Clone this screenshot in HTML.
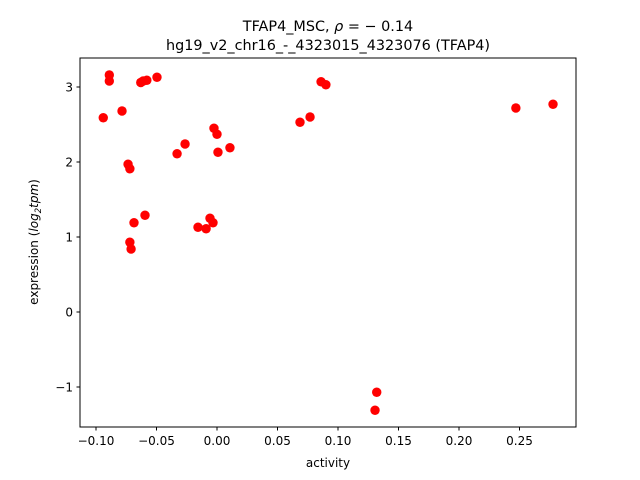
<!DOCTYPE html>
<html><head><meta charset="utf-8"><style>
body{margin:0;background:#fff;}
svg{display:block;font-family:"DejaVu Sans","Liberation Sans",sans-serif;}
</style></head><body>
<svg id="chart" width="640" height="480">
<rect width="640" height="480" fill="#fff"/>
<text x="328" y="31" text-anchor="middle" font-size="14.4">TFAP4_MSC, <tspan font-style="italic">ρ</tspan> = − 0.14</text>
<text x="328" y="50" text-anchor="middle" font-size="14.4">hg19_v2_chr16_-_4323015_4323076 (TFAP4)</text>
<g id="xticks"></g>
<g id="yticks"></g>
<g id="points"></g>
<rect x="80" y="58" width="496" height="369" fill="none" stroke="#000" stroke-width="1"/>
<text x="328" y="467" text-anchor="middle" font-size="12">activity</text>
<text transform="translate(38,242) rotate(-90)" text-anchor="middle" font-size="12">expression (<tspan font-style="italic">log</tspan><tspan font-style="italic" font-size="8.5" dy="3">2</tspan><tspan font-style="italic" dy="-3">tpm</tspan>)</text>
</svg>
<script>
const xTicks=[-0.10,-0.05,0.00,0.05,0.10,0.15,0.20,0.25];
const xTickLabels=["−0.10","−0.05","0.00","0.05","0.10","0.15","0.20","0.25"];
const yTicks=[-1,0,1,2,3];
const yTickLabels=["−1","0","1","2","3"];
const activity=[-0.094,-0.089,-0.089,-0.0785,-0.0735,-0.072,-0.072,-0.071,-0.0686,-0.063,-0.061,-0.058,-0.0595,-0.0496,-0.033,-0.0264,-0.0157,-0.009,-0.0058,-0.0033,-0.0025,0,0.0008,0.0107,0.0686,0.0769,0.086,0.09,0.1306,0.132,0.247,0.2777];
const expression=[2.59,3.16,3.08,2.68,1.97,1.91,0.93,0.84,1.19,3.06,3.08,3.09,1.29,3.13,2.11,2.24,1.13,1.11,1.25,1.19,2.45,2.37,2.13,2.19,2.53,2.6,3.07,3.03,-1.31,-1.07,2.72,2.77];
const NS="http://www.w3.org/2000/svg";
function sx(v){return 217+v*1210;}
function sy(v){return 312-v*75;}
const xg=document.getElementById('xticks'),yg=document.getElementById('yticks'),pg=document.getElementById('points');
xTicks.forEach((t,i)=>{
  const l=document.createElementNS(NS,'line');
  l.setAttribute('x1',sx(t));l.setAttribute('x2',sx(t));l.setAttribute('y1',427);l.setAttribute('y2',430.5);l.setAttribute('stroke','#000');
  
  
  xg.appendChild(l);
  const tx=document.createElementNS(NS,'text');
  tx.setAttribute('x',sx(t));tx.setAttribute('y',445);tx.setAttribute('text-anchor','middle');tx.setAttribute('font-size','12');
  tx.textContent=xTickLabels[i];
  
  
  xg.appendChild(tx);
});
yTicks.forEach((t,i)=>{
  const l=document.createElementNS(NS,'line');
  l.setAttribute('x1',76.5);l.setAttribute('x2',80);l.setAttribute('y1',sy(t));l.setAttribute('y2',sy(t));l.setAttribute('stroke','#000');
  
  
  yg.appendChild(l);
  const tx=document.createElementNS(NS,'text');
  tx.setAttribute('x',73);tx.setAttribute('y',sy(t)+4.5);tx.setAttribute('text-anchor','end');tx.setAttribute('font-size','12');
  tx.textContent=yTickLabels[i];
  
  
  yg.appendChild(tx);
});
activity.forEach((a,i)=>{
  const c=document.createElementNS(NS,'circle');
  c.setAttribute('cx',sx(a));c.setAttribute('cy',sy(expression[i]));c.setAttribute('r',4.7);c.setAttribute('fill','#ff0000');
  
  
  pg.appendChild(c);
});
</script>
</body></html>
